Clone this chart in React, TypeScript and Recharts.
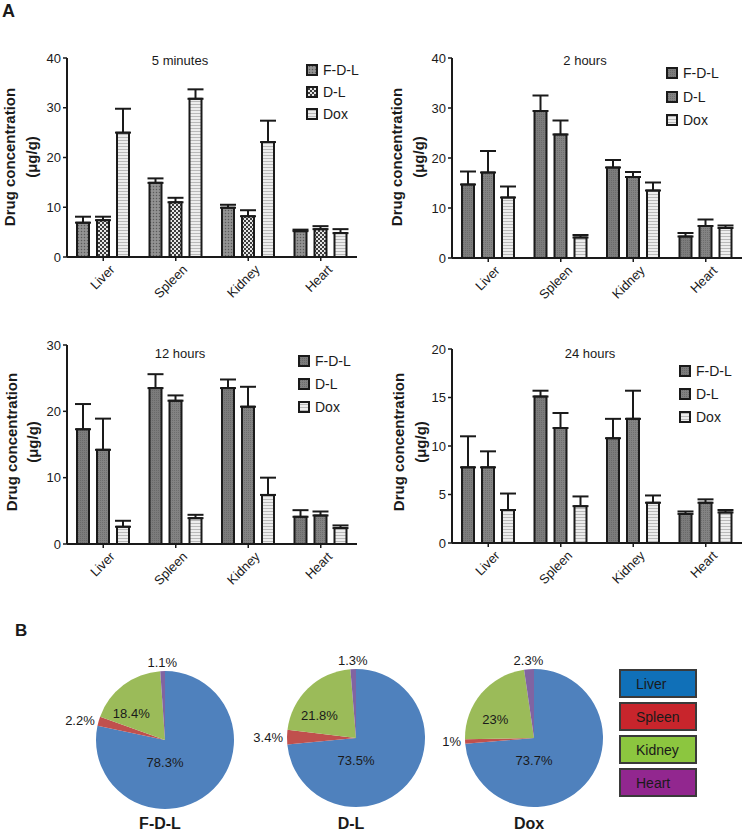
import React from 'react';
import { BarChart, Bar, XAxis, YAxis, ErrorBar, PieChart, Pie, Cell } from 'recharts';

const FONT = '"Liberation Sans", Arial, sans-serif';
const INK = '#1a1a1a';

const organs = ['Liver', 'Spleen', 'Kidney', 'Heart'];
const seriesNames = ['F-D-L', 'D-L', 'Dox'];

// 5 minutes
const fdl5min = [6.9, 14.9, 9.9, 5.2];
const fdl5minErr = [1.2, 0.9, 0.6, 0.3];
const dl5min = [7.4, 11.0, 8.2, 5.6];
const dl5minErr = [0.7, 0.9, 1.2, 0.6];
const dox5min = [25.0, 31.8, 23.1, 4.8];
const dox5minErr = [4.8, 1.9, 4.3, 0.8];

// 2 hours
const fdl2h = [14.7, 29.4, 18.1, 4.3];
const fdl2hErr = [2.6, 3.1, 1.5, 0.7];
const dl2h = [17.1, 24.7, 16.2, 6.4];
const dl2hErr = [4.3, 2.8, 1.0, 1.3];
const dox2h = [12.1, 4.1, 13.5, 6.0];
const dox2hErr = [2.2, 0.5, 1.6, 0.5];

// 12 hours
const fdl12h = [17.3, 23.5, 23.5, 4.1];
const fdl12hErr = [3.8, 2.1, 1.3, 1.0];
const dl12h = [14.2, 21.6, 20.7, 4.3];
const dl12hErr = [4.7, 0.8, 3.0, 0.6];
const dox12h = [2.6, 3.9, 7.4, 2.4];
const dox12hErr = [0.9, 0.5, 2.6, 0.4];

// 24 hours
const fdl24h = [7.8, 15.1, 10.8, 3.0];
const fdl24hErr = [3.2, 0.6, 2.0, 0.25];
const dl24h = [7.8, 11.85, 12.8, 4.15];
const dl24hErr = [1.65, 1.55, 2.9, 0.35];
const dox24h = [3.4, 3.8, 4.15, 3.15];
const dox24hErr = [1.7, 1.0, 0.75, 0.25];

const ticks40 = [0, 10, 20, 30, 40];
const ticks30 = [0, 10, 20, 30];
const ticks20 = [0, 5, 10, 15, 20];

// pie shares (%)
const pieOrgans = ['Liver', 'Spleen', 'Kidney', 'Heart'];
const pieFDL = [78.3, 2.2, 18.4, 1.1];
const pieDL = [73.5, 3.4, 21.8, 1.3];
const pieDox = [73.7, 1, 23, 2.3];

const pieColors = ['#4f81bd', '#c0504d', '#9bbb59', '#8064a2'];
const legendColors = ['#1070b8', '#c8252c', '#8cc63f', '#92278f'];

const CHART_H = 330;

const panels = [
  {
    title: '5 minutes', left: 0, top: 0, yW: 67, mTop: 58, mRight: 16, xH: 73, max: 40, ticks: ticks40,
    vals: [fdl5min, dl5min, dox5min], errs: [fdl5minErr, dl5minErr, dox5minErr],
    fills: ['url(#pFine)', 'url(#pCheck)', 'url(#pStripe)'],
    titleX: 180, titleY: 60, legX: 307, legY: [70, 92, 114], labX: 9, labX2: 31, labY: 157,
  },
  {
    title: '2 hours', left: 373, top: 0, yW: 79, mTop: 58, mRight: 4, xH: 72, max: 40, ticks: ticks40,
    vals: [fdl2h, dl2h, dox2h], errs: [fdl2hErr, dl2hErr, dox2hErr],
    fills: ['url(#pDark)', 'url(#pDark2)', 'url(#pStripe)'],
    titleX: 585, titleY: 60, legX: 667, legY: [73, 97, 120], labX: 396, labX2: 418, labY: 157,
  },
  {
    title: '12 hours', left: 0, top: 290, yW: 67, mTop: 55, mRight: 16, xH: 76, max: 30, ticks: ticks30,
    vals: [fdl12h, dl12h, dox12h], errs: [fdl12hErr, dl12hErr, dox12hErr],
    fills: ['url(#pDark)', 'url(#pDark2)', 'url(#pStripe)'],
    titleX: 180, titleY: 353, legX: 299, legY: [361, 384, 407], labX: 11, labX2: 32, labY: 442,
  },
  {
    title: '24 hours', left: 373, top: 290, yW: 79, mTop: 59, mRight: 4, xH: 77, max: 20, ticks: ticks20,
    vals: [fdl24h, dl24h, dox24h], errs: [fdl24hErr, dl24hErr, dox24hErr],
    fills: ['url(#pDark)', 'url(#pDark2)', 'url(#pStripe)'],
    titleX: 590, titleY: 353, legX: 680, legY: [371, 394, 417], labX: 398, labX2: 420, labY: 442,
  },
];

const pies = [
  { name: 'F-D-L', vals: pieFDL, cx: 160, cy: 735 },
  { name: 'D-L', vals: pieDL, cx: 351, cy: 733 },
  { name: 'Dox', vals: pieDox, cx: 529, cy: 733 },
];

const OrganTick = (props: any) => {
  const { x, y, payload } = props;
  return (
    <g transform={`translate(${x + 6},${y + 1}) rotate(-45)`}>
      <text x={0} y={0} dy={9} textAnchor="end" fontSize={13} fill={INK} fontFamily={FONT}>
        {payload.value}
      </text>
    </g>
  );
};

const RAD = Math.PI / 180;
const pieLabel = (p: any) => {
  const { cx, cy, midAngle, outerRadius, index, value } = p;
  let x = cx;
  let y = cy;
  let anchor: any = 'middle';
  if (index === 0) {
    y = cy + outerRadius * 0.33;
  } else if (index === 2) {
    const a = (midAngle + 15) * RAD;
    x = cx + outerRadius * 0.62 * Math.cos(a);
    y = cy - outerRadius * 0.62 * Math.sin(a);
  } else {
    const a = midAngle * RAD;
    const r = index === 1 ? outerRadius + 4 : outerRadius + 9;
    x = cx + r * Math.cos(a);
    y = cy - r * Math.sin(a);
    if (index === 1) anchor = 'end';
  }
  return (
    <text x={x} y={y} textAnchor={anchor} dominantBaseline="central" fontSize={13} fill={INK} fontFamily={FONT}>
      {value}%
    </text>
  );
};

function BarPanel({ cfg }: any) {
  const data = organs.map((o, i) => ({
    organ: o,
    fdl: cfg.vals[0][i], fdlErr: [0, cfg.errs[0][i]],
    dl: cfg.vals[1][i], dlErr: [0, cfg.errs[1][i]],
    dox: cfg.vals[2][i], doxErr: [0, cfg.errs[2][i]],
  }));
  const keys = ['fdl', 'dl', 'dox'];
  return (
    <div style={{ position: 'absolute', left: cfg.left, top: cfg.top }}>
      <BarChart
        width={373}
        height={CHART_H}
        data={data}
        margin={{ top: cfg.mTop, right: cfg.mRight, left: 0, bottom: 0 }}
        barSize={12}
        barGap={8}
      >
        <XAxis
          dataKey="organ"
          height={cfg.xH}
          interval={0}
          tickSize={4}
          tick={OrganTick}
          axisLine={{ stroke: INK, strokeWidth: 2 }}
          tickLine={{ stroke: INK, strokeWidth: 1.5 }}
        />
        <YAxis
          type="number"
          domain={[0, cfg.max]}
          ticks={cfg.ticks}
          width={cfg.yW}
          interval={0}
          tickSize={4}
          tick={{ fontSize: 13, fill: INK, fontFamily: FONT }}
          axisLine={{ stroke: INK, strokeWidth: 2 }}
          tickLine={{ stroke: INK, strokeWidth: 1.5 }}
        />
        {keys.map((k, i) => (
          <Bar key={k} dataKey={k} fill={cfg.fills[i]} stroke={INK} strokeWidth={2} isAnimationActive={false}>
            <ErrorBar dataKey={k + 'Err'} direction="y" width={8} stroke={INK} strokeWidth={2} isAnimationActive={false} />
          </Bar>
        ))}
      </BarChart>
    </div>
  );
}

function PiePanel({ cfg }: any) {
  const data = pieOrgans.map((o, i) => ({ name: o, value: cfg.vals[i] }));
  return (
    <div style={{ position: 'absolute', left: cfg.cx - 120, top: cfg.cy - 100 }}>
      <PieChart width={240} height={200}>
        <Pie
          data={data}
          dataKey="value"
          cx={120}
          cy={100}
          outerRadius={69}
          startAngle={90}
          endAngle={-270}
          stroke="none"
          label={pieLabel}
          labelLine={false}
          isAnimationActive={false}
        >
          {data.map((d, i) => (
            <Cell key={d.name} fill={pieColors[i]} />
          ))}
        </Pie>
      </PieChart>
    </div>
  );
}

export default function App() {
  return (
    <div style={{ position: 'absolute', left: 0, top: 0, width: 746, height: 832, background: '#fff', overflow: 'hidden' }}>
      <svg width={0} height={0} style={{ position: 'absolute' }}>
        <defs>
          <pattern id="pFine" width="3" height="3" patternUnits="userSpaceOnUse">
            <rect width="3" height="3" fill="#8a8a8a" />
            <rect width="1" height="1" fill="#5a5a5a" />
            <rect x="1.5" y="1.5" width="1" height="1" fill="#b0b0b0" />
          </pattern>
          <pattern id="pCheck" width="4" height="4" patternUnits="userSpaceOnUse">
            <rect width="4" height="4" fill="#e6e6e6" />
            <rect width="2" height="2" fill="#3c3c3c" />
            <rect x="2" y="2" width="2" height="2" fill="#3c3c3c" />
          </pattern>
          <pattern id="pStripe" width="4" height="3" patternUnits="userSpaceOnUse">
            <rect width="4" height="3" fill="#ededed" />
            <rect y="2" width="4" height="1" fill="#b9b9b9" />
          </pattern>
          <pattern id="pDark" width="2" height="2" patternUnits="userSpaceOnUse">
            <rect width="2" height="2" fill="#7c7c7c" />
            <rect width="1" height="1" fill="#6a6a6a" />
          </pattern>
          <pattern id="pDark2" width="2" height="2" patternUnits="userSpaceOnUse">
            <rect width="2" height="2" fill="#838383" />
            <rect width="1" height="1" fill="#6e6e6e" />
          </pattern>
        </defs>
      </svg>

      {panels.map((p) => (
        <BarPanel key={p.title} cfg={p} />
      ))}
      {pies.map((p) => (
        <PiePanel key={p.name} cfg={p} />
      ))}

      <svg width={746} height={832} style={{ position: 'absolute', left: 0, top: 0, pointerEvents: 'none' }} fontFamily={FONT}>
        <text x={2} y={17} fontSize={18} fontWeight="bold" fill={INK}>A</text>
        <text x={15} y={636} fontSize={17} fontWeight="bold" fill={INK}>B</text>

        {panels.map((p) => (
          <g key={p.title}>
            <text x={p.titleX} y={p.titleY} textAnchor="middle" dominantBaseline="central" fontSize={13} fill={INK}>
              {p.title}
            </text>
            <text transform={`translate(${p.labX},${p.labY}) rotate(-90)`} textAnchor="middle" dominantBaseline="central" fontSize={15} fontWeight="bold" fill={INK}>
              Drug concentration
            </text>
            <text transform={`translate(${p.labX2},${p.labY}) rotate(-90)`} textAnchor="middle" dominantBaseline="central" fontSize={15} fontWeight="bold" fill={INK}>
              (μg/g)
            </text>
            {seriesNames.map((s, i) => (
              <g key={s}>
                <rect x={p.legX} y={p.legY[i] - 5} width={10} height={10} fill={p.fills[i]} stroke={INK} strokeWidth={2} />
                <text x={p.legX + 16} y={p.legY[i]} dominantBaseline="central" fontSize={14} fill={INK}>
                  {s}
                </text>
              </g>
            ))}
          </g>
        ))}

        {pies.map((p) => (
          <text key={p.name} x={p.cx} y={829} textAnchor="middle" fontSize={16} fontWeight="bold" fill={INK}>
            {p.name}
          </text>
        ))}

        {pieOrgans.map((o, i) => (
          <g key={o}>
            <rect x={620} y={670 + i * 33} width={76} height={27} fill={legendColors[i]} stroke="#3a3a3a" strokeWidth={2} />
            <text x={636} y={683.5 + i * 33} dominantBaseline="central" fontSize={14} fill={INK}>
              {o}
            </text>
          </g>
        ))}
      </svg>
    </div>
  );
}
